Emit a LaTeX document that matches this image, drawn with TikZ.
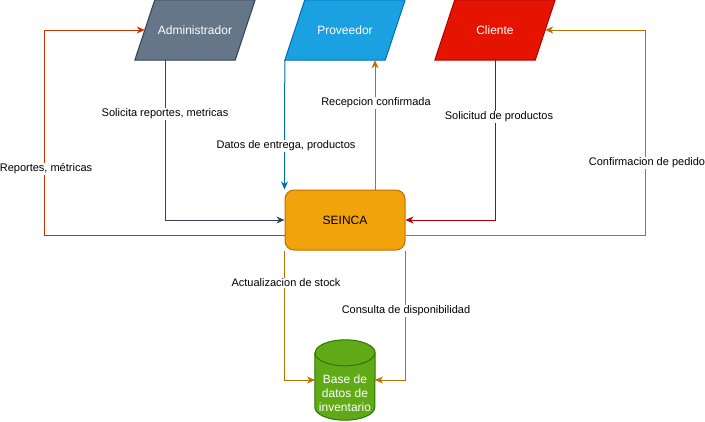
\documentclass[tikz,border=0pt]{standalone}
\usepackage{fontspec}
\setmainfont{Liberation Sans}
\usetikzlibrary{positioning,arrows.meta,backgrounds}
\definecolor{admfill}{HTML}{647687}
\definecolor{admline}{HTML}{314354}
\definecolor{provfill}{HTML}{1BA1E2}
\definecolor{provline}{HTML}{006EAF}
\definecolor{clifill}{HTML}{E51400}
\definecolor{cliline}{HTML}{B20000}
\definecolor{sysfill}{HTML}{F0A30A}
\definecolor{sysline}{HTML}{BD7000}
\definecolor{dbfill}{HTML}{60A917}
\definecolor{dbline}{HTML}{2D7600}
\definecolor{repline}{HTML}{C73500}

\begin{document}
\begin{tikzpicture}[x=1pt, y=-1pt,
    actor/.style={minimum width=120pt, minimum height=60pt, inner sep=0pt, text=white, font=\fontsize{12}{14}\selectfont},
    lbl/.style={fill=white, inner sep=1pt, font=\fontsize{11}{13}\selectfont},
    arrow/.style={-{Stealth[length=8pt, width=7pt, inset=2.5pt]}, line width=1pt, draw=#1},
    cyl/.style={draw=dbline, fill=dbfill, line width=1pt},
]
\useasboundingbox (0,0) rectangle (705,421);

\node[actor] (admin) at (195,30) {Administrador};
\node[actor] (prov) at (345,30) {Proveedor};
\node[actor] (cliente) at (495,30) {Cliente};

\node[draw=sysline, fill=sysfill, line width=1pt, rounded corners=9pt, minimum width=120pt, minimum height=60pt, font=\fontsize{12}{14}\selectfont] (seinca) at (345,220) {SEINCA};

% base de datos (cilindro)
\node[minimum width=60pt, minimum height=80pt, inner sep=0pt] (db) at (345,380) {};
\node[align=center, text=white, font=\fontsize{12}{14}\selectfont] (dbtext) at ([yshift=-13pt]db.center) {Base de\\datos de\\inventario};

\begin{scope}[on background layer]
% paralelogramos de los actores
\foreach \n/\col in {admin/adm, prov/prov, cliente/cli}
    \filldraw[draw=\col line, fill=\col fill, line width=1pt]
        (\n.south west) -- ([xshift=-20pt]\n.south east) -- (\n.north east)
        -- ([xshift=20pt]\n.north west) -- cycle;
\filldraw[cyl] ([yshift=-13pt]db.north west) -- ([yshift=13pt]db.south west)
    arc[start angle=180, end angle=360, x radius=30pt, y radius=13pt]
    -- ([yshift=-13pt]db.north east)
    arc[start angle=0, end angle=180, x radius=30pt, y radius=13pt] -- cycle;
\draw[cyl, fill=none] ([yshift=-13pt]db.north west)
    arc[start angle=180, end angle=360, x radius=30pt, y radius=13pt];
\end{scope}

% flujos entre actores y sistema
\draw[arrow=admline] ([xshift=-30pt]admin.south) |- (seinca.west);
\draw[arrow=repline] ([yshift=-15pt]seinca.west) -- ++(-240,0) |- ([xshift=10pt]admin.west);
\draw[arrow=provline] (prov.south west) -- (seinca.north west);
\draw[arrow=sysline] ([xshift=30pt]seinca.north) -- ([xshift=30pt]seinca.north |- prov.south);
\draw[arrow=cliline] (cliente.south) |- (seinca.east);
\draw[arrow=sysline] ([yshift=-15pt]seinca.east) -- ++(240,0) |- ([xshift=-10pt]cliente.east);
\draw[arrow=sysline] (seinca.south west) |- ([xshift=-30pt]db.center);
\draw[arrow=sysline] (seinca.south east) |- ([xshift=30pt]db.center);

% etiquetas
\node[lbl] (l-sol) at (165,114) {Solicita reportes, metricas};
\node[lbl] (l-rep) at (46,169) {Reportes, métricas};
\node[lbl] (l-dat) at (286,146) {Datos de entrega, productos};
\node[lbl] (l-rec) at (376,103) {Recepcion confirmada};
\node[lbl] (l-pro) at (499,117) {Solicitud de productos};
\node[lbl] (l-ped) at (647,163) {Confirmacion de pedido};
\node[lbl] (l-stk) at (286,283) {Actualizacion de stock};
\node[lbl] (l-dis) at (406,311) {Consulta de disponibilidad};
\end{tikzpicture}
\end{document}
